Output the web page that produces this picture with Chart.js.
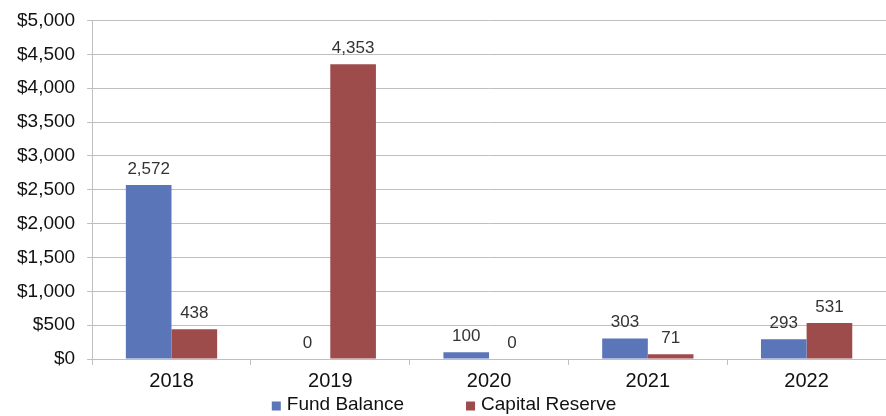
<!DOCTYPE html>
<html>
<head>
<meta charset="utf-8">
<script src="https://cdn.jsdelivr.net/npm/chart.js@4.4.1/dist/chart.umd.min.js"></script>
<style>
  html, body { margin: 0; padding: 0; background: #fff; }
  #wrap { width: 886px; height: 416px; position: relative; }
</style>
</head>
<body>
<div id="wrap"><canvas id="chart"></canvas></div>
<script>
/* ---------- DATA ---------- */
const years = ["2018", "2019", "2020", "2021", "2022"];
const fundBalance = [2572, 0, 100, 303, 293];
const capitalReserve = [438, 4353, 0, 71, 531];
const seriesNames = ["Fund Balance", "Capital Reserve"];
const seriesColors = ["#5B75B9", "#9E4B4C"];

const FONT = "'Liberation Sans', Arial, sans-serif";
const GRID = "#BFBFBF";

/* ---------- PLUGINS ---------- */
// value labels above each bar
const barLabels = {
  id: "barLabels",
  afterDatasetsDraw(chart) {
    const ctx = chart.ctx;
    ctx.save();
    ctx.font = "17px " + FONT;
    ctx.fillStyle = "#333";
    ctx.textAlign = "center";
    ctx.textBaseline = "middle";
    chart.data.datasets.forEach((ds, i) => {
      chart.getDatasetMeta(i).data.forEach((bar, j) => {
        ctx.fillText(ds.data[j].toLocaleString("en-US"), bar.x, bar.y - 16);
      });
    });
    ctx.restore();
  },
};

// legend row under the axis labels
const bottomLegend = {
  id: "bottomLegend",
  afterDraw(chart) {
    const ctx = chart.ctx;
    ctx.save();
    ctx.font = "19px " + FONT;
    ctx.textBaseline = "middle";
    const box = 9, gapText = 6, gapItem = 62;
    const items = chart.data.datasets.map((ds) => ({
      text: ds.label,
      color: ds.backgroundColor,
      w: box + gapText + ctx.measureText(ds.label).width,
    }));
    const total = items.reduce((s, it) => s + it.w, 0) + gapItem * (items.length - 1);
    let x = (chart.width - total) / 2 + 1;
    const y = chart.height - 11;
    items.forEach((it) => {
      ctx.fillStyle = it.color;
      ctx.fillRect(x, y - box / 2 + 1, box, box);
      ctx.fillStyle = "#111";
      ctx.fillText(it.text, x + box + gapText, y);
      x += it.w + gapItem;
    });
    ctx.restore();
  },
};

/* ---------- CHART ---------- */
new Chart(document.getElementById("chart"), {
  type: "bar",
  data: {
    labels: years,
    datasets: [
      { label: seriesNames[0], data: fundBalance, backgroundColor: seriesColors[0] },
      { label: seriesNames[1], data: capitalReserve, backgroundColor: seriesColors[1] },
    ],
  },
  options: {
    responsive: true,
    maintainAspectRatio: false,
    animation: false,
    datasets: { bar: { categoryPercentage: 0.575, barPercentage: 1 } },
    layout: { padding: { top: 3, left: 5, right: 0, bottom: 19 } },
    scales: {
      x: {
        grid: { drawOnChartArea: false, offset: true, tickLength: 6, color: GRID },
        border: { color: GRID },
        ticks: { color: "#111", font: { family: FONT, size: 20 }, padding: 4 },
      },
      y: {
        min: 0,
        max: 5000,
        grid: { color: GRID, tickLength: 5 },
        border: { color: GRID },
        ticks: {
          stepSize: 500,
          color: "#111",
          padding: 12,
          font: { family: FONT, size: 19, lineHeight: 0.9 },
          callback: (v) => "$" + v.toLocaleString("en-US"),
        },
      },
    },
    plugins: { legend: { display: false }, tooltip: { enabled: false } },
  },
  plugins: [barLabels, bottomLegend],
});
</script>
</body>
</html>
